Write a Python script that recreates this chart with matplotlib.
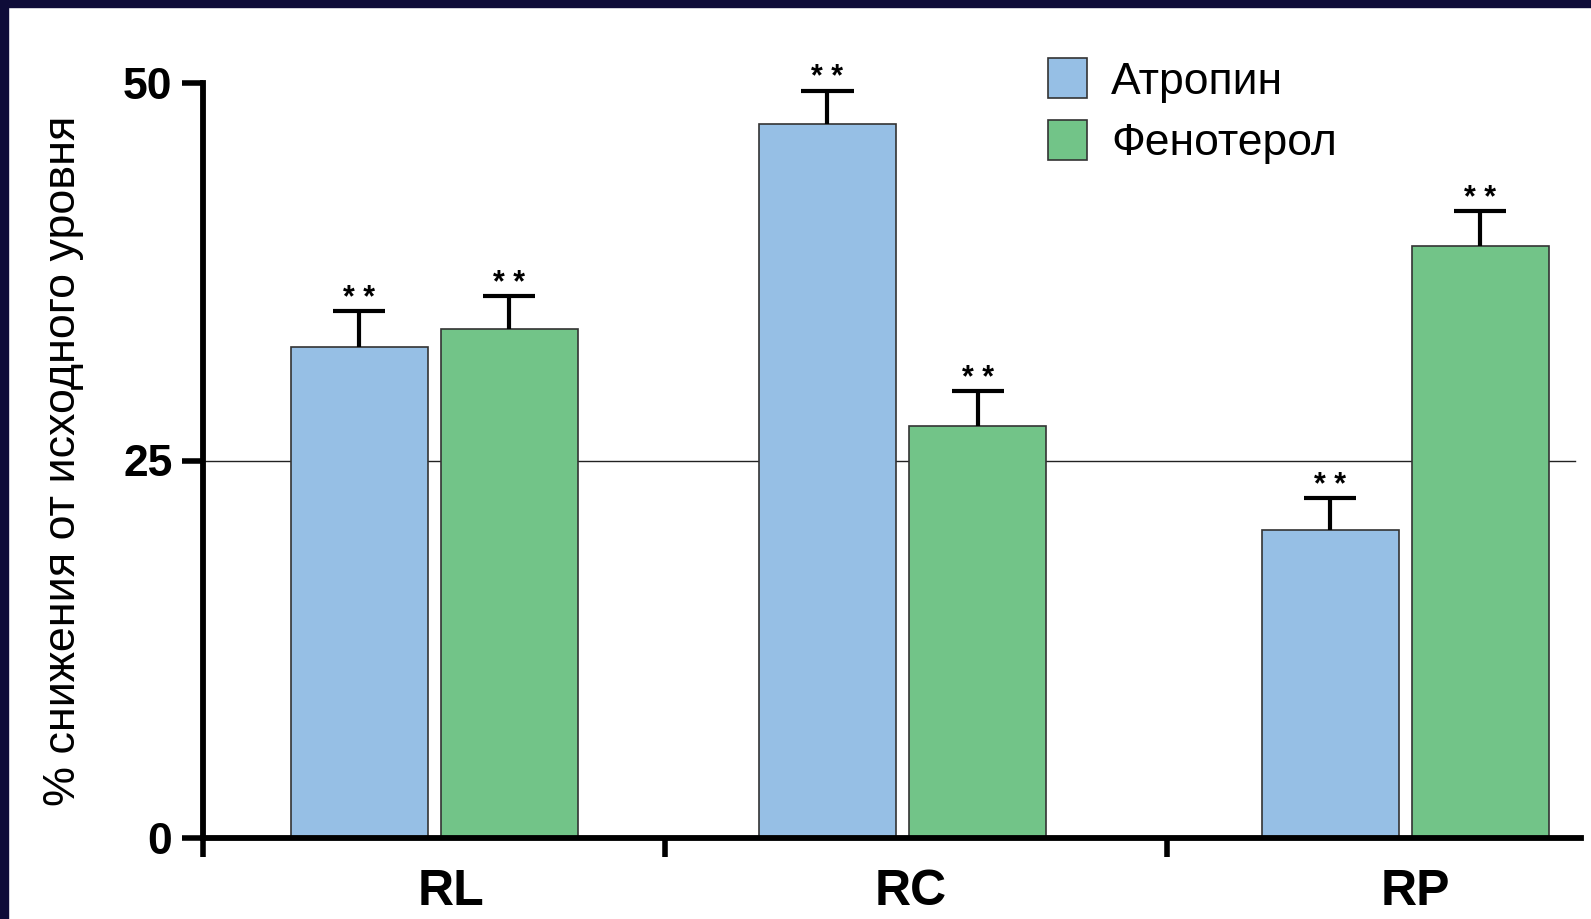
import matplotlib
matplotlib.use("Agg")
import matplotlib.pyplot as plt
from matplotlib.patches import Rectangle, Patch

# ---- data ----
categories = ["RL", "RC", "RP"]
series_names = ["Атропин", "Фенотерол"]
atropine = [32.5, 47.3, 20.4]
fenoterol = [33.7, 27.3, 39.2]
atropine_err = [2.4, 2.2, 2.1]
fenoterol_err = [2.2, 2.3, 2.3]
stars = ["* *", "* *", "* *"]
yticks = [0, 25, 50]
ylabel = "% снижения от исходного уровня"

# ---- layout (x in bar-width units) ----
group_centers = [1.689, 5.107, 8.778]
label_pos = [1.807, 5.17, 8.85]
separators = [0.0, 3.37, 7.037]
bar_w = 1.0
gap = 0.096
cap_half = 0.19
xmax = 10.06

blue = "#96BFE5"
green = "#72C488"
edge = "#333333"

plt.rcParams['font.family'] = ['Liberation Sans', 'DejaVu Sans']

W, H = 1591, 919
fig = plt.figure(figsize=(W / 100, H / 100), dpi=100)
ax = fig.add_axes([203 / W, 1 - 838 / H, (1581 - 203) / W, (838 - 83) / H])

off = (bar_w + gap) / 2
xa = [c - off for c in group_centers]
xf = [c + off for c in group_centers]

ax.bar(xa, atropine, width=bar_w, color=blue, edgecolor=edge, linewidth=1.2, zorder=2)
ax.bar(xf, fenoterol, width=bar_w, color=green, edgecolor=edge, linewidth=1.2, zorder=2)

for xs, vals, errs in ((xa, atropine, atropine_err), (xf, fenoterol, fenoterol_err)):
    tops = [v + e for v, e in zip(vals, errs)]
    ax.vlines(xs, vals, tops, color="black", linewidth=3, zorder=3)
    ax.hlines(tops, [x - cap_half for x in xs], [x + cap_half for x in xs],
              color="black", linewidth=3, zorder=3)
    for x, t, s in zip(xs, tops, stars):
        ax.annotate(s, (x, t), xytext=(0, 3), textcoords="offset points",
                    ha="center", va="baseline", fontsize=22, fontweight="bold",
                    color="black")

ax.axhline(25, xmax=0.9955, color="#222222", linewidth=1.0, zorder=1)

ax.set_xlim(0, xmax)
ax.set_ylim(0, 50)

for s in ("top", "right"):
    ax.spines[s].set_visible(False)
for s in ("left", "bottom"):
    ax.spines[s].set_linewidth(4.2)
ax.spines["left"].set_bounds(0, 50)

ax.set_yticks(yticks)
ax.set_yticklabels([str(t) for t in yticks], fontsize=32, fontweight="bold")
ax.tick_params(axis="y", length=15, width=4, pad=7)

ax.set_xticks(separators)
ax.set_xticklabels([])
ax.tick_params(axis="x", which="major", length=14, width=4)
ax.set_xticks(label_pos, minor=True)
ax.set_xticklabels(categories, minor=True, fontsize=36, fontweight="bold")
ax.tick_params(axis="x", which="minor", length=0, pad=22)

ax.set_ylabel(ylabel, fontsize=32.3, labelpad=28)

handles = [Patch(facecolor=blue, edgecolor=edge, linewidth=1.2),
           Patch(facecolor=green, edgecolor=edge, linewidth=1.2)]
leg = ax.legend(handles, series_names, loc="upper left", bbox_to_anchor=(0.6, 1.056),
                frameon=False, fontsize=32, handlelength=0.88, handleheight=1.0,
                handletextpad=0.55, labelspacing=0.4, borderaxespad=0)

# dark frame edges (top and left)
fig.patches.append(Rectangle((0, 1 - 7 / H), 1, 7 / H, transform=fig.transFigure,
                             color="#0E0C38", zorder=10))
fig.patches.append(Rectangle((0, 0), 8 / W, 1, transform=fig.transFigure,
                             color="#0E0C38", zorder=10))

fig.savefig("out.png", dpi=100)
